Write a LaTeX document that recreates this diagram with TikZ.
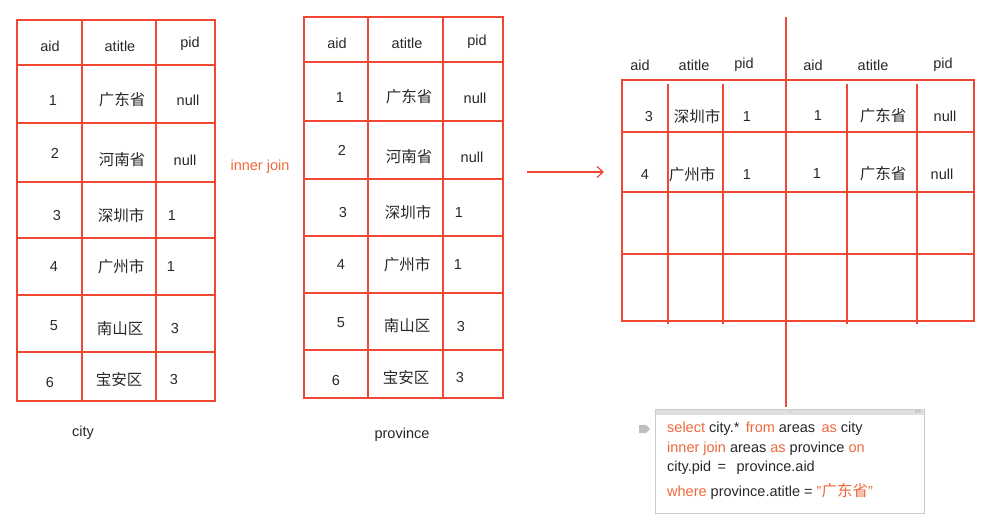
\documentclass[tikz,border=0pt]{standalone}
\usepackage{fontspec}
\setmainfont{Liberation Sans}
\newfontfamily\cjk{Noto Sans CJK SC}
\usetikzlibrary{arrows.meta}
\definecolor{lnred}{RGB}{240,72,50}
\definecolor{kwor}{RGB}{238,104,60}
\definecolor{txtgray}{RGB}{40,40,40}
\newcommand{\zh}[1]{{\cjk\fontsize{15.5}{17}\selectfont #1}}
\newcommand{\kw}[1]{\textcolor{kwor}{#1}}

\begin{document}
\begin{tikzpicture}[x=1pt,y=-1pt,
        tbl/.style={draw=lnred, line width=1.3pt},
        cell/.style={text=txtgray, font=\fontsize{14.5}{16}\selectfont, inner sep=0pt},
        codeln/.style={text=txtgray, font=\fontsize{14.5}{16}\selectfont, inner sep=0pt, anchor=west}]
    \useasboundingbox (0,0) rectangle (991,529);

    % city
    \draw[tbl] (17,20) rectangle (215,401);
    \foreach \x in {82,156} \draw[tbl] (\x,20) -- (\x,401);
    \foreach \y in {65,123,182,238,295,352} \draw[tbl] (17,\y) -- (215,\y);
    \foreach \x/\y/\t [count=\i] in {50/46/aid, 120/46/atitle, 190/44/pid,
            53/101/1, 122/100/{\zh{广东省}}, 188/100/null,
            55/153/2, 122/160/{\zh{河南省}}, 185/160/null,
            57/216/3, 121/216/{\zh{深圳市}}, 172/216/1,
            54/267/4, 121/267/{\zh{广州市}}, 171/267/1,
            54/326/5, 120/329/{\zh{南山区}}, 175/329/3,
            50/383/6, 119/380/{\zh{宝安区}}, 174/380/3}
        \node[cell] (city\i) at (\x,\y) {\t};
    \node[cell] (citylbl) at (83,433) {city};

    \node[cell, text=kwor] (join) at (260,167) {inner join};

    % province
    \draw[tbl] (304,17) rectangle (503,398);
    \foreach \x in {368,443} \draw[tbl] (\x,17) -- (\x,398);
    \foreach \y in {62,121,179,236,293,350} \draw[tbl] (304,\y) -- (503,\y);
    \foreach \x/\y/\t [count=\i] in {337/43/aid, 407/43/atitle, 477/42/pid,
            340/98/1, 409/97/{\zh{广东省}}, 475/98/null,
            342/150/2, 409/157/{\zh{河南省}}, 472/157/null,
            343/213/3, 408/213/{\zh{深圳市}}, 459/213/1,
            341/265/4, 407/265/{\zh{广州市}}, 458/265/1,
            341/323/5, 407/326/{\zh{南山区}}, 461/327/3,
            336/381/6, 406/378/{\zh{宝安区}}, 460/378/3}
        \node[cell] (prov\i) at (\x,\y) {\t};
    \node[cell] (provlbl) at (402,435) {province};

    \coordinate (arrS) at (527,172);
    \coordinate (arrE) at (604,172);
    \draw[lnred, line width=1.3pt, -{Straight Barb[length=6pt,width=11pt]}] (arrS) -- (arrE);

    % result of the join
    \draw[tbl] (622,80) rectangle (974,321);
    \foreach \x in {668,723,847,917} \draw[tbl] (\x,84) -- (\x,324);
    \foreach \y in {132,192,254} \draw[tbl] (622,\y) -- (974,\y);
    \coordinate (splitT) at (786,17);
    \coordinate (splitB) at (786,407);
    \draw[tbl] (splitT) -- (splitB);
    \foreach \x/\y/\t [count=\i] in {640/65/aid, 694/65/atitle, 744/65/pid,
            813/65/aid, 873/65/atitle, 943/65/pid,
            649/117/3, 697/117/{\zh{深圳市}}, 747/117/1,
            818/116/1, 883/116/{\zh{广东省}}, 945/116/null,
            645/175/4, 692/175/{\zh{广州市}}, 747/175/1,
            817/174/1, 883/174/{\zh{广东省}}, 942/174/null}
        \node[cell] (res\i) at (\x,\y) {\t};

    % sql box
    \fill[gray!25] (655,409) rectangle (924,415);
    \draw[gray!40] (655,409) rectangle (924,513);
    \node[text=gray, font=\tiny, inner sep=0pt] (dots) at (790,412) {....};
    \node[text=gray, font=\tiny, inner sep=0pt] (lr) at (918,412) {\textless\textgreater};
    \fill[gray!50] (639,425) -- (646,425) -- (650,429) -- (646,433) -- (639,433) -- cycle;
    \node[codeln] (sql1) at (667,429) {\kw{select} city.*\, \kw{from} areas\, \kw{as} city};
    \node[codeln] (sql2) at (667,449) {\kw{inner join} areas \kw{as} province \kw{on}};
    \node[codeln] (sql3) at (667,468) {city.pid\, = \, province.aid};
    \node[codeln] (sql4) at (667,491) {\kw{where} province.atitle = \kw{"\zh{广东省}"}};
\end{tikzpicture}
\end{document}
